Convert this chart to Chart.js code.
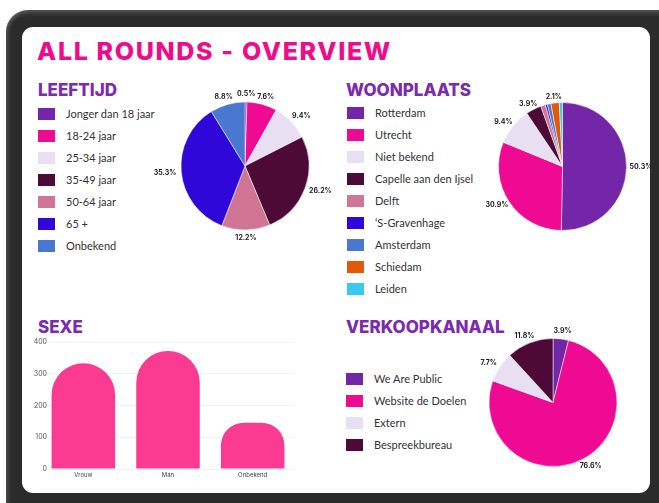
<!DOCTYPE html>
<html>
<head>
<meta charset="utf-8">
<script src="https://cdn.jsdelivr.net/npm/chart.js@4.4.1/dist/chart.umd.min.js"></script>
<style>
  html, body { margin: 0; padding: 0; background: #fff; width: 659px; height: 503px; overflow: hidden; position: relative; font-family: Lato, "Noto Sans", sans-serif; }
  #frame { position: absolute; left: 6px; top: 10px; width: 700px; height: 530px; background: #2b2b2b; border-radius: 22px;
           box-shadow: inset 0 4px 4px -1px rgba(255,255,255,0.18), inset 4px 0 4px -1px rgba(255,255,255,0.12); }
  #panel { position: absolute; left: 22px; top: 27px; width: 628px; height: 466px; background: #fff; border-radius: 11px; }
  .title { position: absolute; left: 37px; top: 39px; font: 800 25px Inter, sans-serif; letter-spacing: 1.65px; color: #ec0c8c; white-space: nowrap; line-height: 25px; }
  .head { position: absolute; font: 800 17px Inter, sans-serif; color: #7a2bb0; white-space: nowrap; line-height: 17px; }
  .legend { position: absolute; font-size: 11px; color: #333; }
  .legend div { position: relative; height: 22px; line-height: 14px; white-space: nowrap; }
  .legend span { position: absolute; left: 0; top: 0; width: 17px; height: 12px; }
  .legend b { position: absolute; left: 28px; top: -1px; font-weight: 400; }
  canvas { position: absolute; }
</style>
</head>
<body>
<div id="frame"></div>
<div id="panel"></div>
<div class="title">ALL ROUNDS - OVERVIEW</div>
<div class="head" style="left:38px;top:82px">LEEFTIJD</div>
<div class="head" style="left:346px;top:82px">WOONPLAATS</div>
<div class="head" style="left:38px;top:319px">SEXE</div>
<div class="head" style="left:346px;top:319px">VERKOOPKANAAL</div>
<div class="legend" id="legLeeftijd" style="left:38px;top:108px"></div>
<div class="legend" id="legWoon" style="left:347px;top:107px"></div>
<div class="legend" id="legKanaal" style="left:346px;top:373px"></div>
<canvas id="leeftijd" width="190" height="172" style="left:150px;top:80px"></canvas>
<canvas id="woonplaats" width="185" height="172" style="left:470px;top:80px"></canvas>
<canvas id="kanaal" width="186" height="170" style="left:460px;top:318px"></canvas>
<canvas id="sexe" width="290" height="160" style="left:27px;top:330px"></canvas>
<script>
// data (percentages)
var leeftijdLabels = ['Jonger dan 18 jaar', '18-24 jaar', '25-34 jaar', '35-49 jaar', '50-64 jaar', '65 +', 'Onbekend'];
var leeftijdValues = [0.5, 7.6, 9.4, 26.2, 12.2, 35.3, 8.8];
var leeftijdColors = ['#7326a8', '#ee0a93', '#e8e0f2', '#4e0a36', '#d07593', '#2f08d9', '#4a78d0'];

var woonLabels = ['Rotterdam', 'Utrecht', 'Niet bekend', 'Capelle aan den Ijsel', 'Delft', '\u2018S-Gravenhage', 'Amsterdam', 'Schiedam', 'Leiden'];
var woonValues = [50.3, 30.9, 9.4, 3.9, 1.2, 0.5, 0.9, 2.1, 0.8];
var woonColors = ['#7326a8', '#ee0a93', '#e8e0f2', '#4e0a36', '#d07593', '#2f08d9', '#4a78d0', '#e05a0a', '#38c8f0'];

var kanaalLabels = ['We Are Public', 'Website de Doelen', 'Extern', 'Bespreekbureau'];
var kanaalValues = [3.9, 76.6, 7.7, 11.8];
var kanaalColors = ['#7326a8', '#ee0a93', '#e8e0f2', '#4e0a36'];

var sexeLabels = ['Vrouw', 'Man', 'Onbekend'];
var sexeValues = [333, 372, 146];
var sexeTicks = [0, 100, 200, 300, 400];

function buildLegend(id, labels, colors) {
  var el = document.getElementById(id);
  labels.forEach(function(l, i) {
    var row = document.createElement('div');
    var box = document.createElement('span');
    box.style.background = colors[i];
    var txt = document.createElement('b');
    txt.textContent = l;
    row.appendChild(box);
    row.appendChild(txt);
    el.appendChild(row);
  });
}
buildLegend('legLeeftijd', leeftijdLabels, leeftijdColors);
buildLegend('legWoon', woonLabels, woonColors);
buildLegend('legKanaal', kanaalLabels, kanaalColors);

// percentage labels just outside the slices
var pctLabels = {
  id: 'pctLabels',
  afterDatasetsDraw: function(chart, args, opts) {
    var ctx = chart.ctx;
    var data = chart.data.datasets[0].data;
    ctx.save();
    ctx.font = 'bold 7px Inter, sans-serif';
    ctx.fillStyle = '#222';
    ctx.textAlign = 'center';
    ctx.textBaseline = 'middle';
    chart.getDatasetMeta(0).data.forEach(function(arc, i) {
      if (data[i] < opts.min) return;
      var a = (arc.startAngle + arc.endAngle) / 2;
      var r = arc.outerRadius + opts.gap;
      var txt = data[i].toFixed(1) + '%';
      var w = ctx.measureText(txt).width;
      var x = arc.x + Math.cos(a) * r + Math.cos(a) * w / 2;
      var y = arc.y + Math.sin(a) * r + Math.sin(a) * 3;
      ctx.fillText(txt, x, y);
    });
    ctx.restore();
  }
};

function pie(id, labels, values, colors, pad, minLabel, gap) {
  return new Chart(document.getElementById(id), {
    type: 'pie',
    data: {
      labels: labels,
      datasets: [{
        data: values,
        backgroundColor: colors,
        borderColor: '#ffffff',
        borderWidth: 0.5
      }]
    },
    options: {
      responsive: false,
      animation: false,
      devicePixelRatio: 1,
      radius: 64,
      layout: { padding: pad },
      plugins: {
        legend: { display: false },
        tooltip: { enabled: false },
        pctLabels: { min: minLabel, gap: gap }
      }
    },
    plugins: [pctLabels]
  });
}

pie('leeftijd', leeftijdLabels, leeftijdValues, leeftijdColors, { left: 31, right: 31, top: 22, bottom: 22 }, 0, 5);
pie('woonplaats', woonLabels, woonValues, woonColors, { left: 28.5, right: 28.5, top: 22.5, bottom: 21.5 }, 2, 3);
pie('kanaal', kanaalLabels, kanaalValues, kanaalColors, { left: 29, right: 29, top: 20.5, bottom: 21.5 }, 0, 5);

// tick labels of the bar chart sit a little to the right of the axis box
var nudgeY = {
  id: 'nudgeY',
  afterLayout: function(chart) { chart.scales.y.right += 6; }
};

new Chart(document.getElementById('sexe'), {
  type: 'bar',
  data: {
    labels: sexeLabels,
    datasets: [{
      data: sexeValues,
      backgroundColor: '#fb3b91',
      borderRadius: { topLeft: 40, topRight: 40 },
      borderSkipped: 'bottom',
      barPercentage: 0.75,
      categoryPercentage: 1
    }]
  },
  options: {
    responsive: false,
    animation: false,
    devicePixelRatio: 1,
    layout: { padding: { left: 0, right: 22, top: 12, bottom: 7 } },
    plugins: { legend: { display: false }, tooltip: { enabled: false } },
    scales: {
      x: {
        grid: { display: false, drawTicks: false },
        border: { display: false },
        ticks: { padding: 3, color: '#444', font: { family: 'Inter', size: 6 } },
        afterFit: function(s) { s.height = 14; }
      },
      y: {
        min: 0,
        max: 400,
        afterBuildTicks: function(s) { s.ticks = sexeTicks.map(function(v) { return { value: v }; }); },
        grid: { color: '#f3f3f3', drawTicks: false },
        border: { display: false },
        ticks: { padding: 0, color: '#555', font: { family: 'Inter', size: 7 } },
        afterFit: function(s) { s.width = 14; }
      }
    }
  },
  plugins: [nudgeY]
});
</script>
</body>
</html>
